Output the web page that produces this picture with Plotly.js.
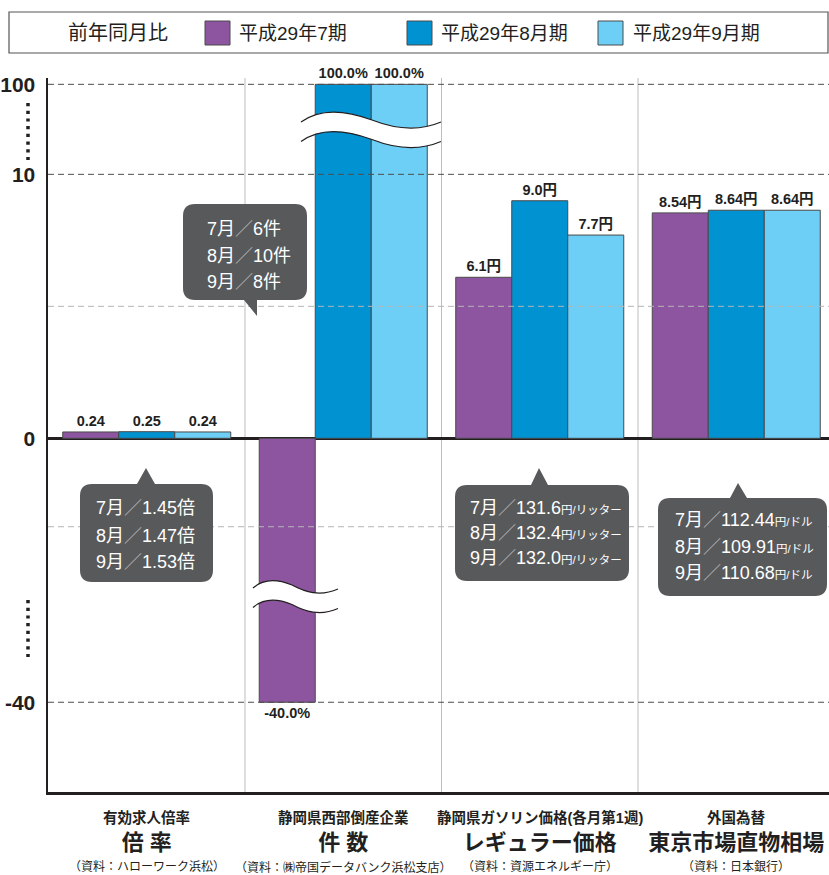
<!DOCTYPE html>
<html>
<head>
<meta charset="utf-8">
<script src="https://cdn.plot.ly/plotly-3.0.1.min.js"></script>
<style>
  html, body { margin: 0; padding: 0; background: #fff; }
  #chart { width: 829px; height: 875px; }
</style>
</head>
<body>
<div id="chart"></div>
<script>
// ---------------- data ----------------
const categories = ['倍 率', '件 数', 'レギュラー価格', '東京市場直物相場'];
const categoryHeads = ['有効求人倍率', '静岡県西部倒産企業', '静岡県ガソリン価格(各月第1週)', '外国為替'];
const categorySources = ['（資料：ハローワーク浜松）', '（資料：㈱帝国データバンク浜松支店）', '（資料：資源エネルギー庁）', '（資料：日本銀行）'];

const legendTitle = '前年同月比';
const seriesNames = ['平成29年7期', '平成29年8月期', '平成29年9月期'];
const julyValues = [0.24, -40.0, 6.1, 8.54];
const augustValues = [0.25, 100.0, 9.0, 8.64];
const septemberValues = [0.24, 100.0, 7.7, 8.64];
const labelSuffix = ['', '%', '円', '円'];
const labelDecimals = [2, 1, 1, 2];

const yTickValues = [100, 10, 0, -40];
const majorGridValues = [100, 10, -40];
const minorGridValues = [5, -13.4];

const calloutMonths = ['7月', '8月', '9月'];
const jobRatio = [1.45, 1.47, 1.53];
const bankruptcies = [6, 10, 8];
const gasolinePrice = [131.6, 132.4, 132.0];
const fxRate = [112.44, 109.91, 110.68];

// ---------------- styles ----------------
const seriesColors = ['#8D55A0', '#0092D1', '#6DCFF6'];
const INK = '#231F20';
const FONT = 'Liberation Sans, Arial, Noto Sans CJK JP, sans-serif';

// broken axis mapping: linear 0..10, compressed above 10, compressed below 0
function axisPos(v) {
  if (v > 10) return 10 + Math.log10(v / 10) * 3.41;
  if (v < 0) return v / 4;
  return v;
}

// plot frame in pixels (for decorations)
const M = { l: 48, t: 78, r: 0, b: 83 };
const W = 829, H = 875;
const PL = M.l, PR = W - M.r, PT = M.t, PB = H - M.b;
const xp = px => (px - PL) / (PR - PL);
const yp = py => (PB - py) / (PB - PT);
const P = (x, y) => xp(x).toFixed(5) + ',' + yp(y).toFixed(5);

// ---------------- traces ----------------
const seriesValues = [julyValues, augustValues, septemberValues];
const traces = seriesValues.map((vals, s) => ({
  type: 'bar',
  name: seriesNames[s],
  x: categories,
  y: vals.map(axisPos),
  text: vals.map((v, i) => v.toFixed(labelDecimals[i]) + labelSuffix[i]),
  textposition: 'outside',
  cliponaxis: false,
  constraintext: 'none',
  textfont: { family: FONT, size: 14.5, color: INK, weight: 700 },
  marker: { color: seriesColors[s], line: { color: '#4a4a4a', width: 1 } },
  hoverinfo: 'skip'
}));

// ---------------- shapes ----------------
const shapes = [];
// category separators
[0.5, 1.5, 2.5].forEach(x => shapes.push({
  type: 'line', xref: 'x', yref: 'paper', x0: x, x1: x, y0: 0, y1: 1,
  line: { color: '#bdbdbd', width: 1 }, layer: 'below'
}));
// dashed gridlines (above bars as in the original)
majorGridValues.forEach(v => shapes.push({
  type: 'line', xref: 'paper', yref: 'y', x0: 0, x1: 1, y0: axisPos(v), y1: axisPos(v),
  line: { color: '#4d4d4d', width: 1, dash: '6px,4px' }, layer: 'above'
}));
minorGridValues.forEach(v => shapes.push({
  type: 'line', xref: 'paper', yref: 'y', x0: 0, x1: 1, y0: axisPos(v), y1: axisPos(v),
  line: { color: '#b5b5b5', width: 1, dash: '6px,4px' }, layer: 'above'
}));
// dotted break markers on the y axis
[[103, 160], [600, 657]].forEach(([a, b]) => shapes.push({
  type: 'line', xref: 'paper', yref: 'paper', x0: xp(28), x1: xp(28), y0: yp(a), y1: yp(b),
  line: { color: INK, width: 3.5, dash: '3.2px,4.5px' }, layer: 'above'
}));

// wavy break marks
function wave(x0, y0, c1, c2, xm, ym, c3, c4, x1, y1, th) {
  const top = 'M' + P(x0, y0) + ' C' + P(c1[0], c1[1]) + ' ' + P(c2[0], c2[1]) + ' ' + P(xm, ym) +
              ' C' + P(c3[0], c3[1]) + ' ' + P(c4[0], c4[1]) + ' ' + P(x1, y1);
  const bot = 'M' + P(x0, y0 + th) + ' C' + P(c1[0], c1[1] + th) + ' ' + P(c2[0], c2[1] + th) + ' ' + P(xm, ym + th) +
              ' C' + P(c3[0], c3[1] + th) + ' ' + P(c4[0], c4[1] + th) + ' ' + P(x1, y1 + th);
  const band = top + ' L' + P(x1, y1 + th) +
               ' C' + P(c4[0], c4[1] + th) + ' ' + P(c3[0], c3[1] + th) + ' ' + P(xm, ym + th) +
               ' C' + P(c2[0], c2[1] + th) + ' ' + P(c1[0], c1[1] + th) + ' ' + P(x0, y0 + th) + ' Z';
  shapes.push({ type: 'path', xref: 'paper', yref: 'paper', path: band, fillcolor: '#ffffff', line: { width: 0 }, layer: 'above' });
  shapes.push({ type: 'path', xref: 'paper', yref: 'paper', path: top, line: { color: INK, width: 1.2 }, layer: 'above' });
  shapes.push({ type: 'path', xref: 'paper', yref: 'paper', path: bot, line: { color: INK, width: 1.2 }, layer: 'above' });
}
wave(301, 122, [320, 108], [345, 110], 372, 120, [395, 129], [420, 131], 441, 122, 19.5);
wave(253, 588, [262, 580], [275, 578], 292, 585, [305, 592], [320, 597], 338, 589, 19.5);

// callout boxes
const CALLOUT = '#58595B';
function callout(x0, y0, x1, y1, r, side, b0, b1, tx, ty) {
  let d = 'M' + P(x0 + r, y0);
  if (side === 'top') d += ' L' + P(b0, y0) + ' L' + P(tx, ty) + ' L' + P(b1, y0);
  d += ' L' + P(x1 - r, y0) + ' Q' + P(x1, y0) + ' ' + P(x1, y0 + r);
  d += ' L' + P(x1, y1 - r) + ' Q' + P(x1, y1) + ' ' + P(x1 - r, y1);
  if (side === 'bottom') d += ' L' + P(b1, y1) + ' L' + P(tx, ty) + ' L' + P(b0, y1);
  d += ' L' + P(x0 + r, y1) + ' Q' + P(x0, y1) + ' ' + P(x0, y1 - r);
  d += ' L' + P(x0, y0 + r) + ' Q' + P(x0, y0) + ' ' + P(x0 + r, y0) + ' Z';
  shapes.push({ type: 'path', xref: 'paper', yref: 'paper', path: d, fillcolor: CALLOUT, line: { width: 0 }, layer: 'above' });
}
callout(183, 204, 307, 300, 12, 'bottom', 244, 257, 257, 316);
callout(80, 484, 213, 582, 12, 'top', 137, 155, 146, 468);
callout(455, 485, 629, 581, 12, 'top', 531, 548, 539, 468);
callout(658, 498, 827, 596, 12, 'top', 730, 747, 738, 483);

// legend frame and swatches
shapes.push({ type: 'rect', xref: 'paper', yref: 'paper', x0: xp(9), x1: xp(828), y0: yp(53), y1: yp(12),
  line: { color: '#555', width: 1.2 }, fillcolor: 'rgba(0,0,0,0)' });
const swatchX = [205, 407, 598];
swatchX.forEach((x, s) => shapes.push({ type: 'rect', xref: 'paper', yref: 'paper',
  x0: xp(x), x1: xp(x + 25), y0: yp(45), y1: yp(21),
  fillcolor: seriesColors[s], line: { color: '#4a4a4a', width: 1 } }));

// ---------------- annotations ----------------
const annotations = [];
annotations.push({ xref: 'paper', yref: 'paper', x: xp(118), y: yp(33), text: legendTitle, showarrow: false,
  xanchor: 'center', yanchor: 'middle', font: { family: FONT, size: 20, color: INK } });
const legendTextX = [237, 439, 631];
seriesNames.forEach((n, s) => annotations.push({ xref: 'paper', yref: 'paper', x: xp(legendTextX[s]), y: yp(33),
  text: n, showarrow: false, xanchor: 'left', yanchor: 'middle', font: { family: FONT, size: 19, color: INK } }));

categoryHeads.forEach((t, i) => annotations.push({ xref: 'x', yref: 'paper', x: i, y: yp(817), text: t,
  showarrow: false, xanchor: 'center', yanchor: 'middle', font: { family: FONT, size: 14.5, color: INK, weight: 700 } }));
categorySources.forEach((t, i) => annotations.push({ xref: 'x', yref: 'paper', x: i, y: yp(867), text: t,
  showarrow: false, xanchor: 'center', yanchor: 'middle', font: { family: FONT, size: 12, color: INK } }));

const SLASH = '<span style="color:#b8b8b8">／</span>';
function calloutText(left, ys, vals, dec, unit, small) {
  vals.forEach((v, k) => {
    const u = small ? '<span style="font-size:11.5px">' + unit + '</span>' : unit;
    annotations.push({ xref: 'paper', yref: 'paper', x: xp(left), y: yp(ys[k]),
      text: calloutMonths[k] + SLASH + v.toFixed(dec) + u, showarrow: false,
      xanchor: 'left', yanchor: 'middle', font: { family: FONT, size: 18, color: '#ffffff' } });
  });
}
calloutText(205, [229, 256, 282], bankruptcies, 0, '件', false);
calloutText(94, [508, 536, 562], jobRatio, 2, '倍', false);
calloutText(468, [508, 533, 558], gasolinePrice, 1, '円/リッター', true);
calloutText(673, [520, 547, 573], fxRate, 2, '円/ドル', true);

// ---------------- layout ----------------
const layout = {
  width: W, height: H,
  margin: M,
  paper_bgcolor: '#fff', plot_bgcolor: '#fff',
  font: { family: FONT, color: INK },
  barmode: 'group', bargap: 0.145, bargroupgap: 0,
  showlegend: false,
  xaxis: {
    type: 'category',
    range: [-0.5025, 3.472],
    showline: true, linecolor: INK, linewidth: 2.5,
    ticks: '', showgrid: false, zeroline: false,
    tickfont: { family: FONT, size: 22, color: INK, weight: 700 },
    ticklabelstandoff: 29,
    fixedrange: true
  },
  yaxis: {
    range: [-13.40, 13.65],
    tickmode: 'array',
    tickvals: yTickValues.map(axisPos),
    ticktext: yTickValues.map(String),
    tickfont: { family: FONT, size: 21, color: INK, weight: 700 },
    ticks: '', showgrid: false,
    zeroline: true, zerolinecolor: INK, zerolinewidth: 2.5,
    showline: true, linecolor: INK, linewidth: 2.5,
    ticklabelstandoff: 6,
    fixedrange: true
  },
  shapes: shapes,
  annotations: annotations
};

Plotly.newPlot('chart', traces, layout, { displayModeBar: false, staticPlot: true });
</script>
</body>
</html>
